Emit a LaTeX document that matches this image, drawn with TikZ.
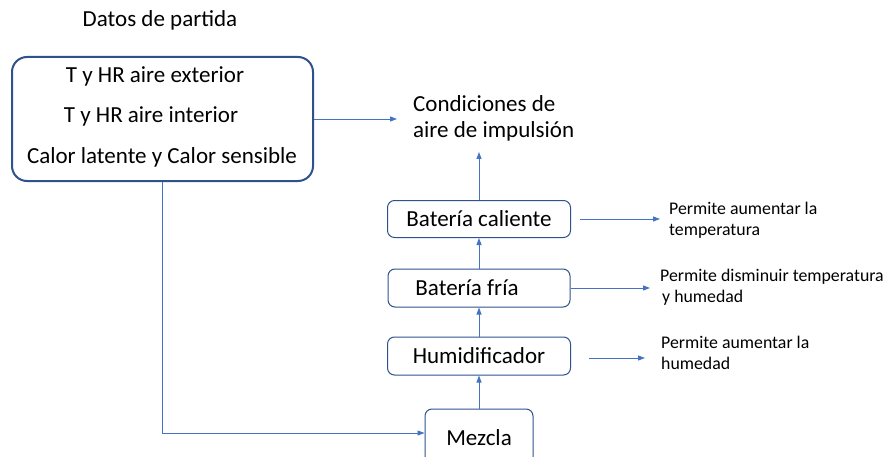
\documentclass[tikz,border=0pt]{standalone}
\usepackage{fontspec}
\setmainfont{Carlito}
\usetikzlibrary{arrows.meta}
\definecolor{conn}{HTML}{4472C4}
\definecolor{boxc}{HTML}{2F528F}
\tikzset{
  conn/.style={draw=conn, line width=0.9pt, -{Triangle[length=7pt,width=5pt]}},
  bigtxt/.style={font=\fontsize{23}{26}\selectfont, inner sep=0pt},
  smalltxt/.style={font=\fontsize{17.8}{21}\selectfont, inner sep=0pt, align=left},
  smallbox/.style={draw=boxc, line width=1pt, rounded corners=7pt, minimum height=38pt, inner sep=0pt, font=\fontsize{23}{26}\selectfont},
}
\begin{document}
\begin{tikzpicture}[x=1pt,y=-1pt]
\useasboundingbox (0,0) rectangle (890,457);
\clip (0,0) rectangle (890,457);
\fill[white] (0,0) rectangle (890,457);
% title
\node[bigtxt] (title) at (160,20) {Datos de partida};
% big box
\node[draw=boxc, line width=2pt, rounded corners=15pt, minimum width=301pt, minimum height=124pt, inner sep=0pt] (big) at (162.5,119) {};
\node[bigtxt] (t1) at (155,76) {T y HR aire exterior};
\node[bigtxt] (t2) at (151,116) {T y HR aire interior};
\node[bigtxt] (t3) at (162,157) {Calor latente y Calor sensible};
% conditions
\node[bigtxt, align=left, anchor=west] (cond) at (413,118) {Condiciones de\\aire de impulsión};
\coordinate (ctip) at (479,152);
% boxes
\node[smallbox, minimum width=183pt, minimum height=37pt] (bc) at (479,219) {Batería caliente};
\node[smallbox, minimum width=182pt] (bf) at (479,288) {\hspace*{-24pt}Batería fría};
\node[smallbox, minimum width=183pt] (hu) at (479,356) {Humidificador};
\node[smallbox, minimum width=108pt, minimum height=56pt] (mz) at (479,437) {};
\node[bigtxt] (mzt) at (479,438) {Mezcla};
% side texts
\node[smalltxt, anchor=west] (p1) at (669,220) {Permite aumentar la\\temperatura};
\node[smalltxt, anchor=west] (p2) at (660,287) {Permite disminuir temperatura\\ \hspace*{2pt}y humedad};
\node[smalltxt, anchor=west] (p3) at (661,353) {Permite aumentar la\\humedad};
% connectors
\draw[conn, shorten >=16pt] (big.east) -- (big.east -| cond.west);
\draw[conn] (bc.north) -- (ctip);
\draw[conn] (bf.north) -- (bc.south);
\draw[conn] (hu.north) -- (bf.south);
\draw[conn] (mz.north) -- (hu.south);
\draw[conn, shorten <=9pt, shorten >=9pt] (bc.east) -- (bc.east -| p1.west);
\draw[conn, shorten >=10pt] (bf.east) -- (bf.east -| p2.west);
\draw[conn, shorten <=18pt, shorten >=16pt] ([yshift=-2pt]hu.east) -- ([yshift=-2pt]hu.east -| p3.west);
\draw[conn] (big.south -| t3.south) |- ([yshift=4pt]mz.west);
\end{tikzpicture}
\end{document}
